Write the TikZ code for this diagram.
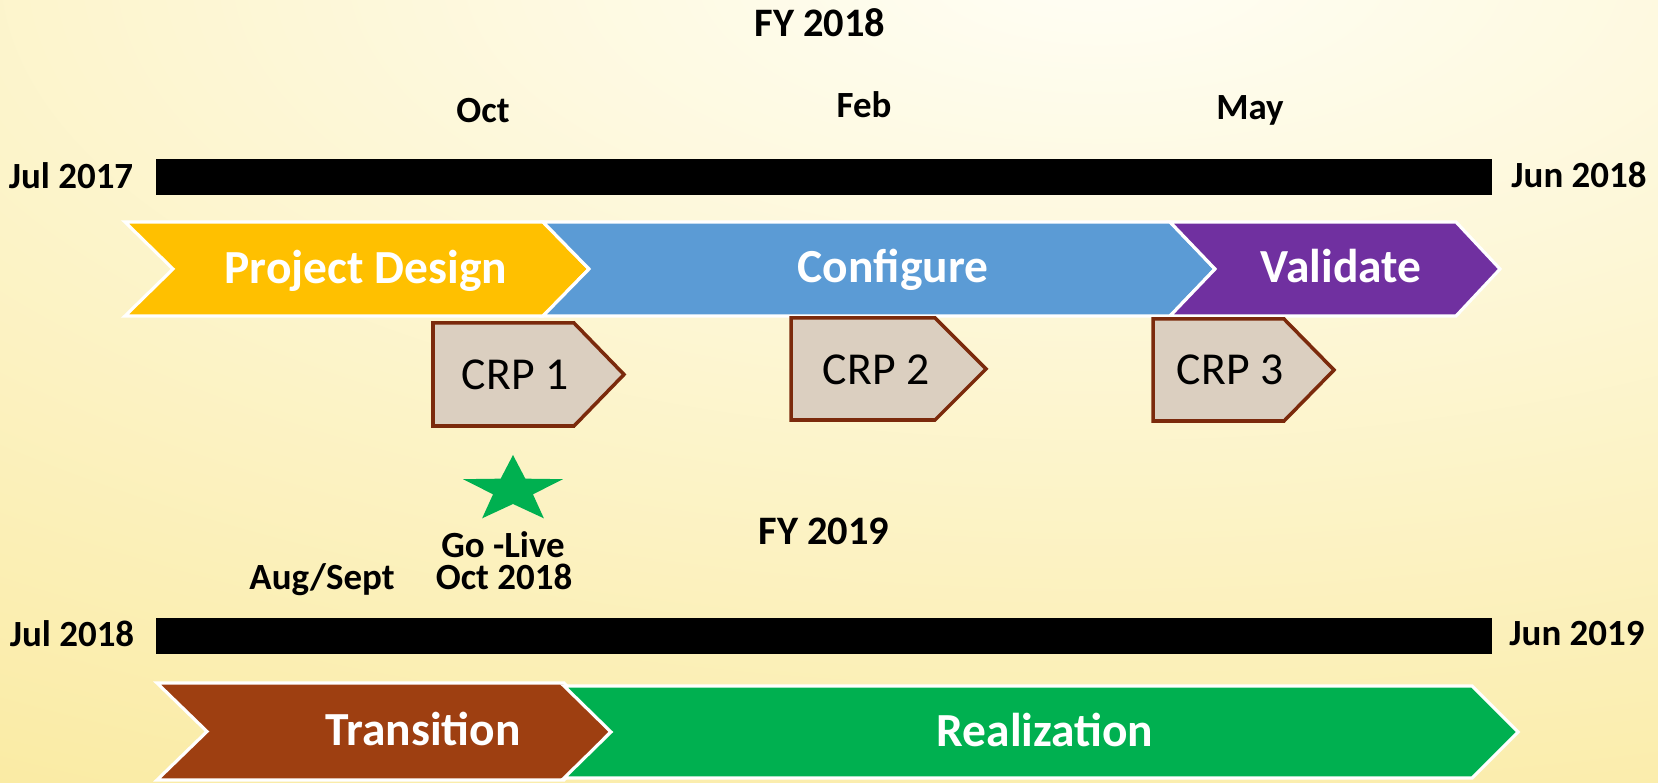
\documentclass[tikz,border=0pt]{standalone}
\usepackage{fontspec}
\setmainfont{Carlito}
\definecolor{bgin}{HTML}{FFFEF5}
\definecolor{bgout}{HTML}{F5D853}
\definecolor{pdyellow}{HTML}{FFC000}
\definecolor{cfblue}{HTML}{5B9BD5}
\definecolor{vdpurple}{HTML}{7030A0}
\definecolor{trbrown}{HTML}{9E3F11}
\definecolor{rzgreen}{HTML}{00B050}
\definecolor{crpfill}{HTML}{DBCFC0}
\definecolor{crpline}{HTML}{7B2A0C}
\begin{document}
\begin{tikzpicture}[x=0.01cm,y=-0.01cm,
  phase/.style={draw=white,line width=0.9pt,line join=miter},
  crp/.style={fill=crpfill,draw=crpline,line width=1pt},
  datelbl/.style={anchor=base,inner sep=0pt,font=\fontsize{10.5}{12}\selectfont\bfseries},
  fylbl/.style={anchor=base,inner sep=0pt,font=\fontsize{11.5}{13}\selectfont\bfseries},
  phaselbl/.style={anchor=base,inner sep=0pt,text=white,font=\fontsize{13.5}{16}\selectfont\bfseries},
  crplbl/.style={anchor=base,inner sep=0pt,font=\fontsize{13}{15}\selectfont}]
\useasboundingbox (0,0) rectangle (1658,783);
% background
\begin{scope}
\clip (0,0) rectangle (1658,783);
\shade[inner color=bgin,outer color=bgout] (1100,-30) ellipse (4400 and 1880);
\end{scope}
% FY 2018
\node[fylbl] (fy18) at (820,37) {FY 2018};
\node[datelbl] (oct) at (483,123) {Oct};
\node[datelbl] (feb) at (864,118) {Feb};
\node[datelbl] (may) at (1250,120) {May};
\node[datelbl] (jul17) at (71,189) {Jul 2017};
\node[datelbl] (jun18) at (1579,188) {Jun 2018};
\fill (156,159) rectangle (1492,195);
% phases FY 2018
\filldraw[phase,fill=pdyellow] (125,222) -- (543,222) -- (589,269) -- (543,316) -- (125,316) -- (173,269) -- cycle;
\filldraw[phase,fill=cfblue] (543,222) -- (1170,222) -- (1215,269) -- (1170,316) -- (543,316) -- (589,269) -- cycle;
\filldraw[phase,fill=vdpurple] (1170,222) -- (1456,222) -- (1500,269) -- (1456,316) -- (1170,316) -- (1215,269) -- cycle;
\node[phaselbl] (pd) at (366,284) {Project Design};
\node[phaselbl] (cf) at (893,283) {Configure};
\node[phaselbl] (vd) at (1341,283) {Validate};
% CRPs
\filldraw[crp] (433,323) -- (574,323) -- (624,374.5) -- (574,426) -- (433,426) -- cycle;
\filldraw[crp] (791,318) -- (935,318) -- (986,369) -- (935,420) -- (791,420) -- cycle;
\filldraw[crp] (1153,319) -- (1284,319) -- (1334,370) -- (1284,421) -- (1153,421) -- cycle;
\node[crplbl] (crp1) at (515,390) {CRP 1};
\node[crplbl] (crp2) at (876,385) {CRP 2};
\node[crplbl] (crp3) at (1230,385) {CRP 3};
% go-live
\fill[rzgreen,shift={(513,490)},xscale=1.5]
  (270:35) -- (306:14) -- (342:35) -- (18:14) -- (54:35) -- (90:14)
  -- (126:35) -- (162:14) -- (198:35) -- (234:14) -- cycle;
\node[datelbl] (golive) at (503,558) {Go -Live};
\node[datelbl] (oct18) at (504,590) {Oct 2018};
\node[datelbl] (augsep) at (322,590) {Aug/Sept};
% FY 2019
\node[fylbl] (fy19) at (824,545) {FY 2019};
\node[datelbl] (jul18) at (72,647) {Jul 2018};
\node[datelbl] (jun19) at (1577,646) {Jun 2019};
\fill (156,618) rectangle (1492,654);
\filldraw[phase,fill=trbrown] (157,683) -- (564,683) -- (611,731.5) -- (564,780) -- (157,780) -- (207,731.5) -- cycle;
\filldraw[phase,fill=rzgreen] (564,686) -- (1472,686) -- (1518,732) -- (1472,778) -- (564,778) -- (611,732) -- cycle;
\node[phaselbl] (tr) at (423,745) {Transition};
\node[phaselbl] (rz) at (1045,747) {Realization};
\end{tikzpicture}
\end{document}
